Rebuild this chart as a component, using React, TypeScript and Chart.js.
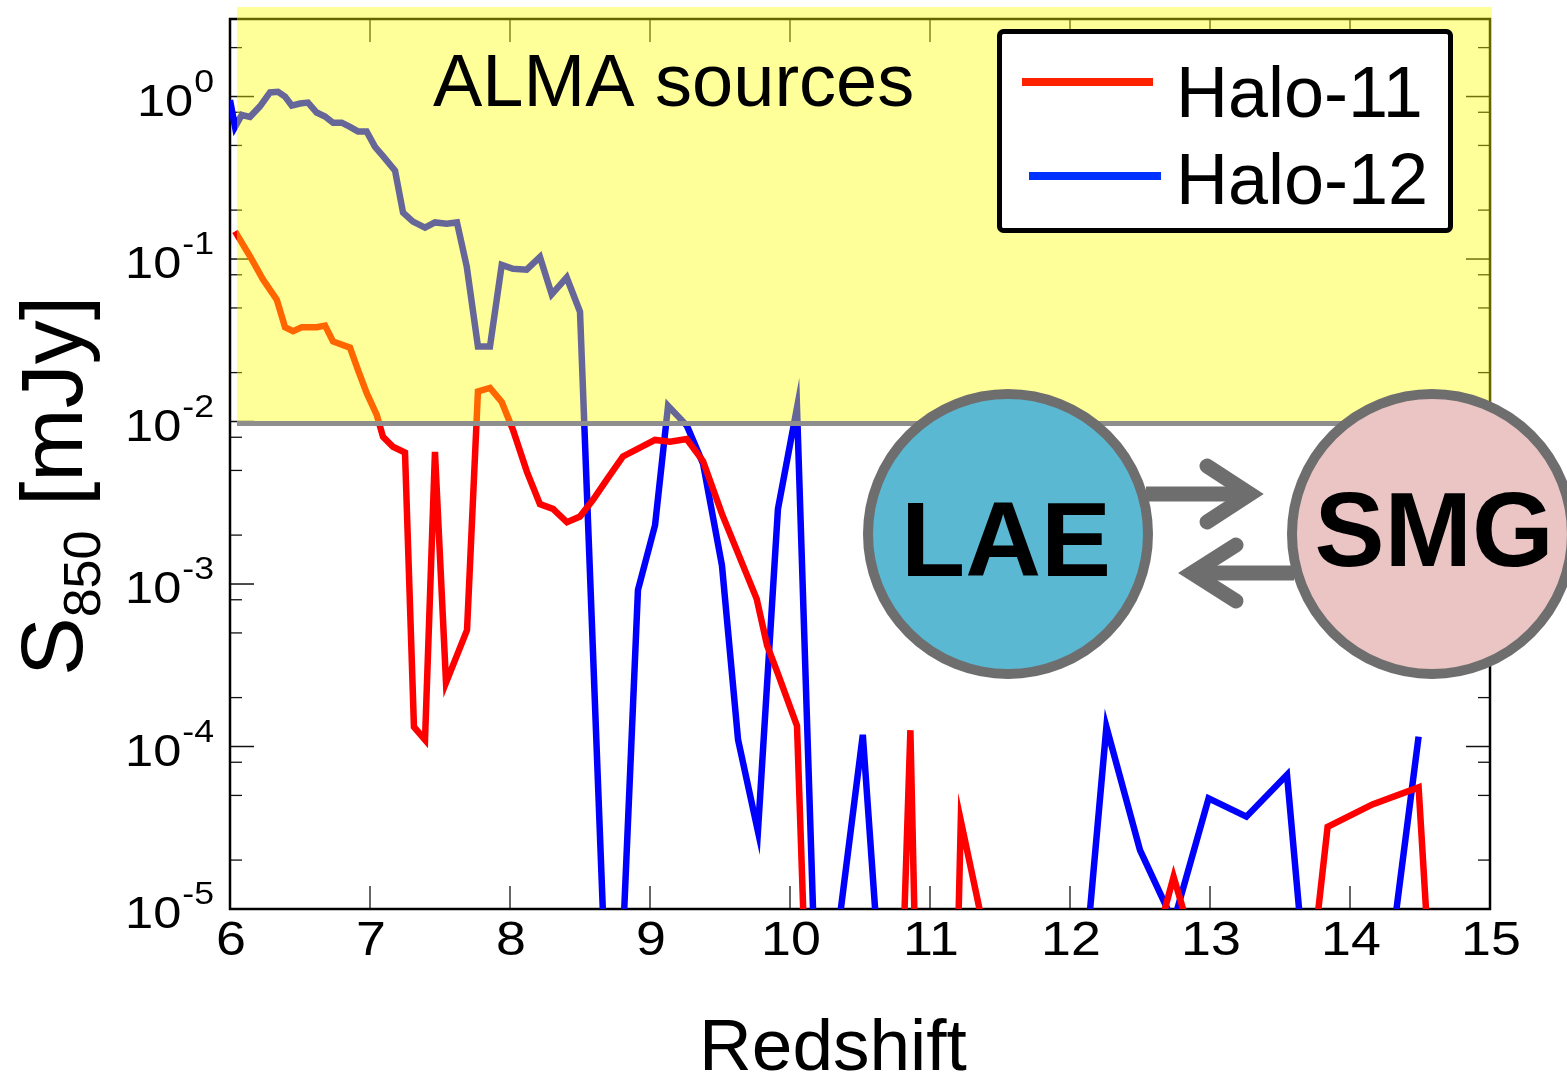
import React, { useEffect, useRef } from 'react';
import { Chart, registerables } from 'chart.js';

Chart.register(...registerables);

// ---------- data ----------
const seriesLabels = ['Halo-11', 'Halo-12'];

const redshiftHalo11 = [
  6.036, 6.143, 6.236, 6.334, 6.393, 6.45, 6.512, 6.619, 6.679, 6.736, 6.857, 6.914, 6.976,
  7.048, 7.093, 7.164, 7.25, 7.314, 7.393, 7.464, 7.543, 7.693, 7.771, 7.857, 7.941, 8.021,
  8.121, 8.214, 8.307, 8.407, 8.5, 8.593, 8.7, 8.807, 9.036, 9.143, 9.262, 9.379, 9.514,
  9.762, 9.836, 9.914, 10.05, 10.2, 10.36, 10.52, 10.69, 10.86, 11.04, 11.22, 11.41, 11.61,
  11.82, 12.04, 12.26, 12.5, 12.74, 12.99, 13.26, 13.55, 13.84, 14.16, 14.49, 14.84,
];
const fluxHalo11 = [
  0.148, 0.104, 0.0747, 0.0562, 0.038, 0.036, 0.038, 0.038, 0.0389, 0.0311, 0.0285, 0.0208, 0.015,
  0.011, 0.00805, 0.007, 0.00645, 1.32e-4, 1.1e-4, 6.5e-3, 2.47e-4, 5.2e-4, 0.0153, 0.0161, 0.0132, 0.0089,
  0.0049, 0.0031, 0.0029, 0.0024, 0.0026, 0.0033, 0.0045, 0.0061, 0.0077, 0.0075, 0.0078, 0.0057, 0.0027,
  8.1e-4, 4.2e-4, 2.8e-4, 1.34e-4, 2e-8, 1e-12, 1e-12, 4e-9, 1.26e-4, 1e-11, 3.5e-5, 5.9e-6, 1e-12,
  1e-12, 1e-12, 1e-12, 2.7e-6, 1.58e-5, 2.9e-6, 1e-12, 1.9e-7, 3.2e-5, 4.4e-5, 5.6e-5, 6e-10,
];

const redshiftHalo12 = [
  6.0, 6.036, 6.084, 6.143, 6.214, 6.286, 6.343, 6.393, 6.441, 6.5, 6.557, 6.619, 6.679, 6.736,
  6.798, 6.857, 6.914, 6.976, 7.036, 7.093, 7.179, 7.236, 7.307, 7.393, 7.464, 7.548, 7.621,
  7.691, 7.771, 7.857, 7.941, 8.021, 8.119, 8.214, 8.298, 8.405, 8.5, 8.686, 8.79, 8.914,
  9.036, 9.129, 9.264, 9.379, 9.514, 9.629, 9.771, 9.914, 10.05, 10.2, 10.36, 10.52, 10.69,
  10.86, 11.04, 11.22, 11.41, 11.61, 11.82, 12.04, 12.26, 12.5, 12.74, 12.99, 13.26, 13.55,
  13.84, 14.16, 14.49,
];
const fluxHalo12 = [
  0.95, 0.65, 0.77, 0.75, 0.87, 1.06, 1.07, 1.0, 0.88, 0.906, 0.918, 0.797, 0.753, 0.69,
  0.69, 0.65, 0.61, 0.61, 0.49, 0.43, 0.35, 0.193, 0.17, 0.156, 0.168, 0.165, 0.168,
  0.09, 0.029, 0.029, 0.092, 0.087, 0.086, 0.103, 0.0606, 0.077, 0.0474, 3e-6, 3e-6, 9.2e-4,
  2.3e-3, 0.0125, 9.4e-3, 5.5e-3, 1.3e-3, 1.1e-4, 3.0e-5, 2.9e-3, 0.0122, 1.1e-6, 9.5e-6, 1.18e-4, 1e-6,
  1e-12, 1e-12, 1e-12, 1e-12, 1e-12, 1e-12, 1e-6, 1.32e-4, 2.3e-5, 8.3e-6, 4.8e-5, 3.7e-5, 6.7e-5,
  1.1e-7, 7e-7, 1.15e-4,
];

const xTickValues = [6, 7, 8, 9, 10, 11, 12, 13, 14, 15];
const yTickExponents = [0, -1, -2, -3, -4, -5];
const yMinorMultipliers = [2, 5, 8];
const almaThreshold = 0.01;
const almaLabel = 'ALMA sources';
const laeLabel = 'LAE';
const smgLabel = 'SMG';
const xTitle = 'Redshift';
const yTitleMain = 'S';
const yTitleSub = '850';
const yTitleUnit = ' [mJy]';

// ---------- styles ----------
const FONT = '"Liberation Sans", Arial, Helvetica, sans-serif';
const RED = '#ff0000';
const BLUE = '#0000ff';
const LEGEND_COLORS = ['#ff2200', '#0033ff'];
const X_TICK_STRETCH = 1.12;
const Y_TICK_STRETCH = 1.15;

function line(ctx: CanvasRenderingContext2D, x1: number, y1: number, x2: number, y2: number) {
  ctx.beginPath();
  ctx.moveTo(x1, y1);
  ctx.lineTo(x2, y2);
  ctx.stroke();
}

function stretchedText(
  ctx: CanvasRenderingContext2D,
  text: string,
  x: number,
  y: number,
  sx: number,
  align: CanvasTextAlign,
) {
  ctx.save();
  ctx.translate(x, y);
  ctx.scale(sx, 1);
  ctx.textAlign = align;
  ctx.fillText(text, 0, 0);
  ctx.restore();
}

const figurePlugin = {
  id: 'figureOverlay',
  beforeDatasetsDraw(chart: any) {
    const { ctx, chartArea: a, scales } = chart;
    const xs = scales.x;
    const ys = scales.y;
    ctx.save();
    ctx.lineCap = 'butt';
    // x ticks (inward, top and bottom)
    ctx.strokeStyle = '#333';
    ctx.lineWidth = 1.5;
    for (const v of xTickValues) {
      if (v <= xs.min || v >= xs.max) continue;
      const px = xs.getPixelForValue(v);
      line(ctx, px, a.bottom, px, a.bottom - 23);
      line(ctx, px, a.top, px, a.top + 23);
    }
    // y major ticks
    ctx.strokeStyle = '#111';
    for (const e of yTickExponents) {
      const py = ys.getPixelForValue(Math.pow(10, e));
      line(ctx, a.left, py, a.left + 24, py);
      line(ctx, a.right, py, a.right - 24, py);
    }
    // y minor ticks
    ctx.lineWidth = 1.3;
    for (let e = -6; e <= 0; e++) {
      for (const m of yMinorMultipliers) {
        const v = m * Math.pow(10, e);
        if (v <= ys.min * 1.0001 || v >= ys.max) continue;
        const py = ys.getPixelForValue(v);
        line(ctx, a.left, py, a.left + 12, py);
        line(ctx, a.right, py, a.right - 12, py);
      }
    }
    // frame
    ctx.strokeStyle = '#000';
    ctx.lineWidth = 2.5;
    ctx.strokeRect(a.left, a.top, a.right - a.left, a.bottom - a.top);
    ctx.restore();
  },
  afterDatasetsDraw(chart: any) {
    const { ctx, chartArea: a, scales } = chart;
    const xs = scales.x;
    const ys = scales.y;
    ctx.save();

    // ALMA shaded region (semi-transparent yellow over the lines)
    const yThr = ys.getPixelForValue(almaThreshold);
    const yl = xs.getPixelForValue(6) + 7;
    ctx.fillStyle = 'rgba(255,255,0,0.4)';
    ctx.fillRect(yl, a.top - 12, a.right + 2 - yl, yThr + 0.5 - (a.top - 12));
    ctx.strokeStyle = '#8e8e8e';
    ctx.lineWidth = 5;
    line(ctx, yl, yThr + 2, a.right + 2, yThr + 2);

    // ALMA text
    ctx.fillStyle = '#000';
    ctx.font = `74px ${FONT}`;
    ctx.textAlign = 'left';
    ctx.textBaseline = 'alphabetic';
    ctx.fillText(almaLabel, 433, 106);

    // legend
    ctx.fillStyle = '#fff';
    ctx.strokeStyle = '#000';
    ctx.lineWidth = 5;
    ctx.beginPath();
    if ((ctx as any).roundRect) (ctx as any).roundRect(999.5, 31.5, 451, 199, 4);
    else ctx.rect(999.5, 31.5, 451, 199);
    ctx.fill();
    ctx.stroke();
    const legendRows = [
      { y: 82, x1: 1022, x2: 1153, ty: 117 },
      { y: 176, x1: 1029, x2: 1161, ty: 204 },
    ];
    chart.data.datasets.forEach((ds: any, i: number) => {
      const r = legendRows[i];
      ctx.strokeStyle = LEGEND_COLORS[i];
      ctx.lineWidth = 8;
      line(ctx, r.x1, r.y, r.x2, r.y);
      ctx.fillStyle = '#000';
      ctx.font = `72px ${FONT}`;
      ctx.textAlign = 'left';
      ctx.fillText(ds.label, 1176, r.ty);
    });

    // x tick labels
    ctx.fillStyle = '#000';
    ctx.font = `48px ${FONT}`;
    for (const v of xTickValues) {
      const px = xs.getPixelForValue(v);
      stretchedText(ctx, String(v), px + 1, 955, X_TICK_STRETCH, 'center');
    }

    // y tick labels 10^n
    for (const e of yTickExponents) {
      const py = ys.getPixelForValue(Math.pow(10, e));
      const exp = e === 0 ? '0' : '-' + Math.abs(e);
      ctx.font = `44px ${FONT}`;
      const wBase = ctx.measureText('10').width * Y_TICK_STRETCH;
      ctx.font = `31px ${FONT}`;
      const wExp = ctx.measureText(exp).width * Y_TICK_STRETCH;
      const x0 = 213 - wBase - wExp;
      ctx.font = `44px ${FONT}`;
      stretchedText(ctx, '10', x0, py + 19, Y_TICK_STRETCH, 'left');
      ctx.font = `31px ${FONT}`;
      stretchedText(ctx, exp, x0 + wBase + 1, py - 5, Y_TICK_STRETCH, 'left');
    }

    // x title
    ctx.font = `73px ${FONT}`;
    ctx.textAlign = 'center';
    ctx.fillText(xTitle, 833, 1070);

    // y title (rotated)
    ctx.save();
    ctx.translate(82, 676);
    ctx.rotate(-Math.PI / 2);
    ctx.textAlign = 'left';
    ctx.font = `88px ${FONT}`;
    ctx.fillText(yTitleMain, 0, 0);
    const wS = ctx.measureText(yTitleMain).width;
    ctx.font = `52px ${FONT}`;
    ctx.fillText(yTitleSub, wS, 18);
    const wSub = ctx.measureText(yTitleSub).width;
    ctx.font = `88px ${FONT}`;
    ctx.fillText(yTitleUnit, wS + wSub, 0);
    ctx.restore();

    // LAE / SMG cartoon
    const gray = '#6e6e6e';
    ctx.lineWidth = 10;
    ctx.strokeStyle = gray;
    ctx.fillStyle = '#5bb8d2';
    ctx.beginPath();
    ctx.arc(1008, 534, 140, 0, Math.PI * 2);
    ctx.fill();
    ctx.stroke();
    ctx.fillStyle = '#ebc4c4';
    ctx.beginPath();
    ctx.arc(1432, 534, 140, 0, Math.PI * 2);
    ctx.fill();
    ctx.stroke();

    // arrows
    ctx.strokeStyle = gray;
    ctx.lineWidth = 15;
    ctx.lineCap = 'butt';
    line(ctx, 1146, 494, 1244, 494);
    line(ctx, 1198, 573, 1294, 573);
    ctx.lineCap = 'round';
    ctx.lineJoin = 'miter';
    ctx.miterLimit = 10;
    ctx.beginPath();
    ctx.moveTo(1207, 466);
    ctx.lineTo(1250, 494);
    ctx.lineTo(1207, 522);
    ctx.stroke();
    ctx.beginPath();
    ctx.moveTo(1236, 545);
    ctx.lineTo(1192, 573);
    ctx.lineTo(1236, 601);
    ctx.stroke();

    ctx.fillStyle = '#000';
    ctx.font = `bold 105px ${FONT}`;
    ctx.textAlign = 'center';
    ctx.fillText(laeLabel, 1006, 576);
    ctx.fillText(smgLabel, 1434, 566);

    ctx.restore();
  },
};

export default function App() {
  const canvasRef = useRef<HTMLCanvasElement | null>(null);

  useEffect(() => {
    const canvas = canvasRef.current;
    if (!canvas) return;
    const chart = new Chart(canvas, {
      type: 'line',
      data: {
        datasets: [
          {
            label: seriesLabels[0],
            data: redshiftHalo11.map((z, i) => ({ x: z, y: fluxHalo11[i] })),
            borderColor: RED,
            backgroundColor: RED,
            borderWidth: 6.5,
            pointRadius: 0,
            tension: 0,
            fill: false,
            borderJoinStyle: 'miter',
          },
          {
            label: seriesLabels[1],
            data: redshiftHalo12.map((z, i) => ({ x: z, y: fluxHalo12[i] })),
            borderColor: BLUE,
            backgroundColor: BLUE,
            borderWidth: 6.5,
            pointRadius: 0,
            tension: 0,
            fill: false,
            borderJoinStyle: 'miter',
          },
        ],
      },
      options: {
        animation: false,
        responsive: false,
        devicePixelRatio: 1,
        layout: { padding: { left: 0, right: 77, top: 19, bottom: 0 } },
        plugins: {
          legend: { display: false },
          tooltip: { enabled: false },
          title: { display: false },
        },
        scales: {
          x: {
            type: 'linear',
            min: 6,
            max: 15,
            afterFit: (s: any) => {
              s.height = 168;
            },
            afterBuildTicks: (s: any) => {
              s.ticks = xTickValues.map((v) => ({ value: v }));
            },
            grid: { display: false, drawTicks: false },
            border: { display: false },
            ticks: { display: false },
          },
          y: {
            type: 'logarithmic',
            min: 1e-5,
            max: 3,
            afterFit: (s: any) => {
              s.width = 230;
            },
            grid: { display: false, drawTicks: false },
            border: { display: false },
            ticks: { display: false },
          },
        },
      } as any,
      plugins: [figurePlugin],
    });
    return () => chart.destroy();
  }, []);

  return (
    <div style={{ position: 'absolute', left: 0, top: 0, width: 1567, height: 1077, background: '#fff' }}>
      <canvas ref={canvasRef} width={1567} height={1077} style={{ display: 'block' }} />
    </div>
  );
}
